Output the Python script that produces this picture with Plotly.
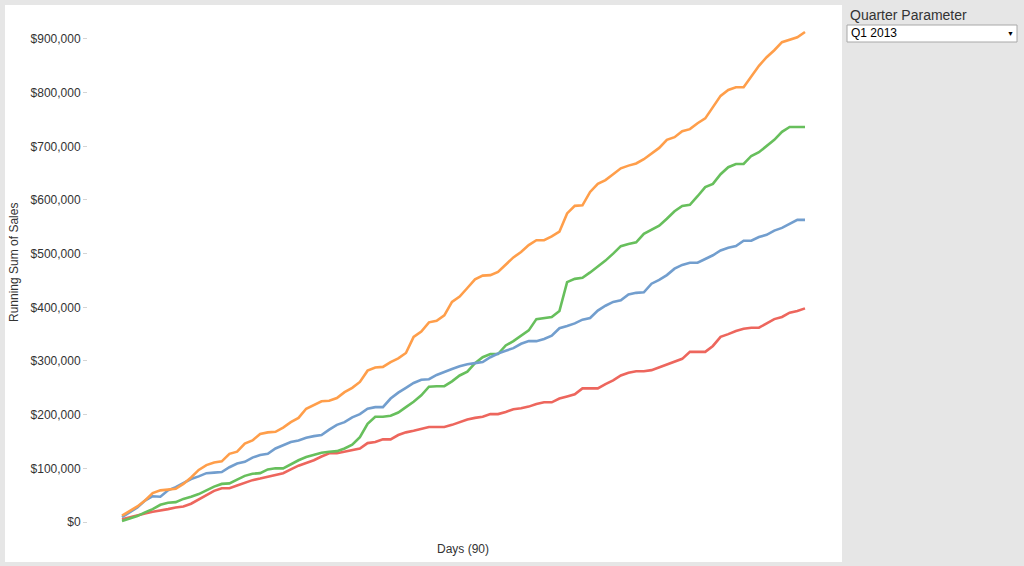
"""Laufende Umsatzsumme je Tag im Quartal (Q1 2013), vier Linien, Tableau-Look."""
import numpy as np
import plotly.graph_objects as go

# Tage im Quartal (x-Achse, ohne Beschriftung)
days = list(range(1, 91))

# Laufende Summe in Tausend $
orange_k = [12, 20, 29, 40, 54, 59, 60, 62, 71, 83, 97, 106, 111, 113, 127, 131, 146, 152,
            164, 167, 168, 176, 186, 194, 211, 218, 225, 226, 231, 242, 250, 261, 282, 288,
            289, 298, 305, 315, 345, 355, 372, 375, 385, 410, 420, 436, 452, 459, 460, 466,
            480, 493, 503, 516, 525, 525, 532, 541, 575, 589, 590, 615, 630, 637, 648, 659,
            664, 668, 676, 687, 697, 712, 717, 728, 732, 743, 752, 773, 794, 805, 810, 810,
            829, 850, 866, 879, 894, 898, 903, 913]
green_k = [2, 6, 11, 18, 24, 32, 36, 37, 43, 47, 52, 59, 66, 71, 72, 79, 86, 90, 91, 98,
           100, 100, 108, 115, 121, 125, 129, 131, 132, 137, 144, 158, 183, 196, 196, 198,
           204, 214, 224, 236, 252, 253, 253, 262, 273, 280, 296, 307, 313, 313, 329, 337,
           347, 357, 378, 380, 382, 393, 447, 453, 455, 465, 476, 487, 500, 514, 518, 521,
           537, 544, 552, 565, 579, 589, 591, 607, 624, 630, 648, 661, 667, 667, 682, 689,
           700, 712, 727, 736, 736, 736]
blue_k = [9, 18, 27, 40, 48, 47, 59, 65, 72, 80, 85, 91, 92, 93, 102, 109, 112, 120, 125,
          127, 137, 143, 149, 152, 157, 160, 162, 172, 181, 186, 195, 201, 211, 214, 214,
          230, 241, 250, 259, 265, 266, 274, 280, 285, 290, 294, 296, 298, 307, 314, 319,
          324, 332, 337, 337, 341, 347, 361, 365, 370, 377, 380, 394, 403, 410, 413, 424,
          427, 428, 444, 451, 460, 472, 479, 483, 483, 490, 497, 506, 511, 514, 524, 524,
          531, 535, 543, 548, 556, 563, 563]
red_k = [5, 9, 13, 16, 19, 21, 24, 27, 29, 34, 42, 51, 58, 63, 63, 68, 73, 78, 81, 84, 88,
         91, 98, 105, 110, 115, 122, 128, 128, 131, 134, 137, 147, 149, 154, 154, 162, 167,
         170, 173, 177, 177, 177, 181, 186, 191, 194, 196, 201, 201, 205, 210, 212, 215,
         220, 223, 223, 230, 234, 238, 249, 249, 249, 257, 264, 273, 278, 281, 281, 283,
         288, 293, 298, 304, 317, 317, 317, 328, 345, 350, 356, 360, 362, 362, 370, 378,
         382, 390, 393, 398]

y_ticks = [0, 100000, 200000, 300000, 400000, 500000, 600000, 700000, 800000, 900000]
quarter = "Q1 2013"

# Tableau 10 Medium
COLORS = {"orange": "#ff9e4a", "green": "#67bf5c", "blue": "#729ece", "red": "#ed665d"}

# Pixelraster der Vorlage -> Papierkoordinaten
L, R, T, B = 88, 186, 22, 36
W, H = 1024, 566
# Tableau lässt links/rechts Luft zwischen Achse und erster/letzter Linie (px je Tag ~7.67)
X_RANGE = [1 - 34 / 7.674, 90 + 33 / 7.674]


def px(x):
    return (x - L) / (W - L - R)


def py(y):
    return (H - B - y) / (H - T - B)


def label(text, x, y, size=12, color="#333333", xanchor="center", angle=0):
    return dict(text=text, xref="paper", yref="paper", x=px(x), y=py(y),
                xanchor=xanchor, yanchor="middle", textangle=angle, showarrow=False,
                font=dict(size=size, color=color))


fig = go.Figure()
for key, vals in [("red", red_k), ("green", green_k), ("blue", blue_k), ("orange", orange_k)]:
    fig.add_trace(go.Scatter(x=days, y=np.array(vals) * 1000, mode="lines", name=key,
                             line=dict(color=COLORS[key], width=2.6), showlegend=False))

fig.update_layout(
    width=W, height=H,
    margin=dict(l=L, r=R, t=T, b=B),
    paper_bgcolor="#e6e6e6",
    plot_bgcolor="rgba(0,0,0,0)",
    font=dict(family="Arial, Liberation Sans", size=12, color="#333333"),
    xaxis=dict(range=X_RANGE, visible=False),
    yaxis=dict(range=[-14900, 931600], tickvals=y_ticks, tickformat="$,.0f",
               showgrid=False, zeroline=False, showline=False,
               ticks="outside", ticklen=4, tickcolor="#d4d4d4", tickwidth=1,
               tickfont=dict(size=12, color="#333333")),
    shapes=[
        # weiße Diagramm-Fläche
        dict(type="rect", xref="paper", yref="paper", layer="below",
             x0=px(5), x1=px(842), y0=py(562), y1=py(5),
             fillcolor="white", line=dict(width=0)),
        # Dropdown-Feld rechts
        dict(type="rect", xref="paper", yref="paper",
             x0=px(847), x1=px(1017), y0=py(42), y1=py(25),
             fillcolor="white", line=dict(color="#a8a8a8", width=1)),
    ],
    annotations=[
        label("Running Sum of Sales", 14, 263, angle=-90),
        label("Days (90)", 463, 549),
        label("Quarter Parameter", 848, 15, size=14, xanchor="left"),
        label(quarter, 849, 33.5, color="#000000", xanchor="left"),
        label("▼", 1011, 33.5, size=7, color="#000000"),
    ],
)

# Body-Rand des Browsers entfernen, damit das Bild bei (0,0) beginnt
fig.write_html("out.html", config={"displayModeBar": False},
               post_script="document.body.style.margin='0';")
